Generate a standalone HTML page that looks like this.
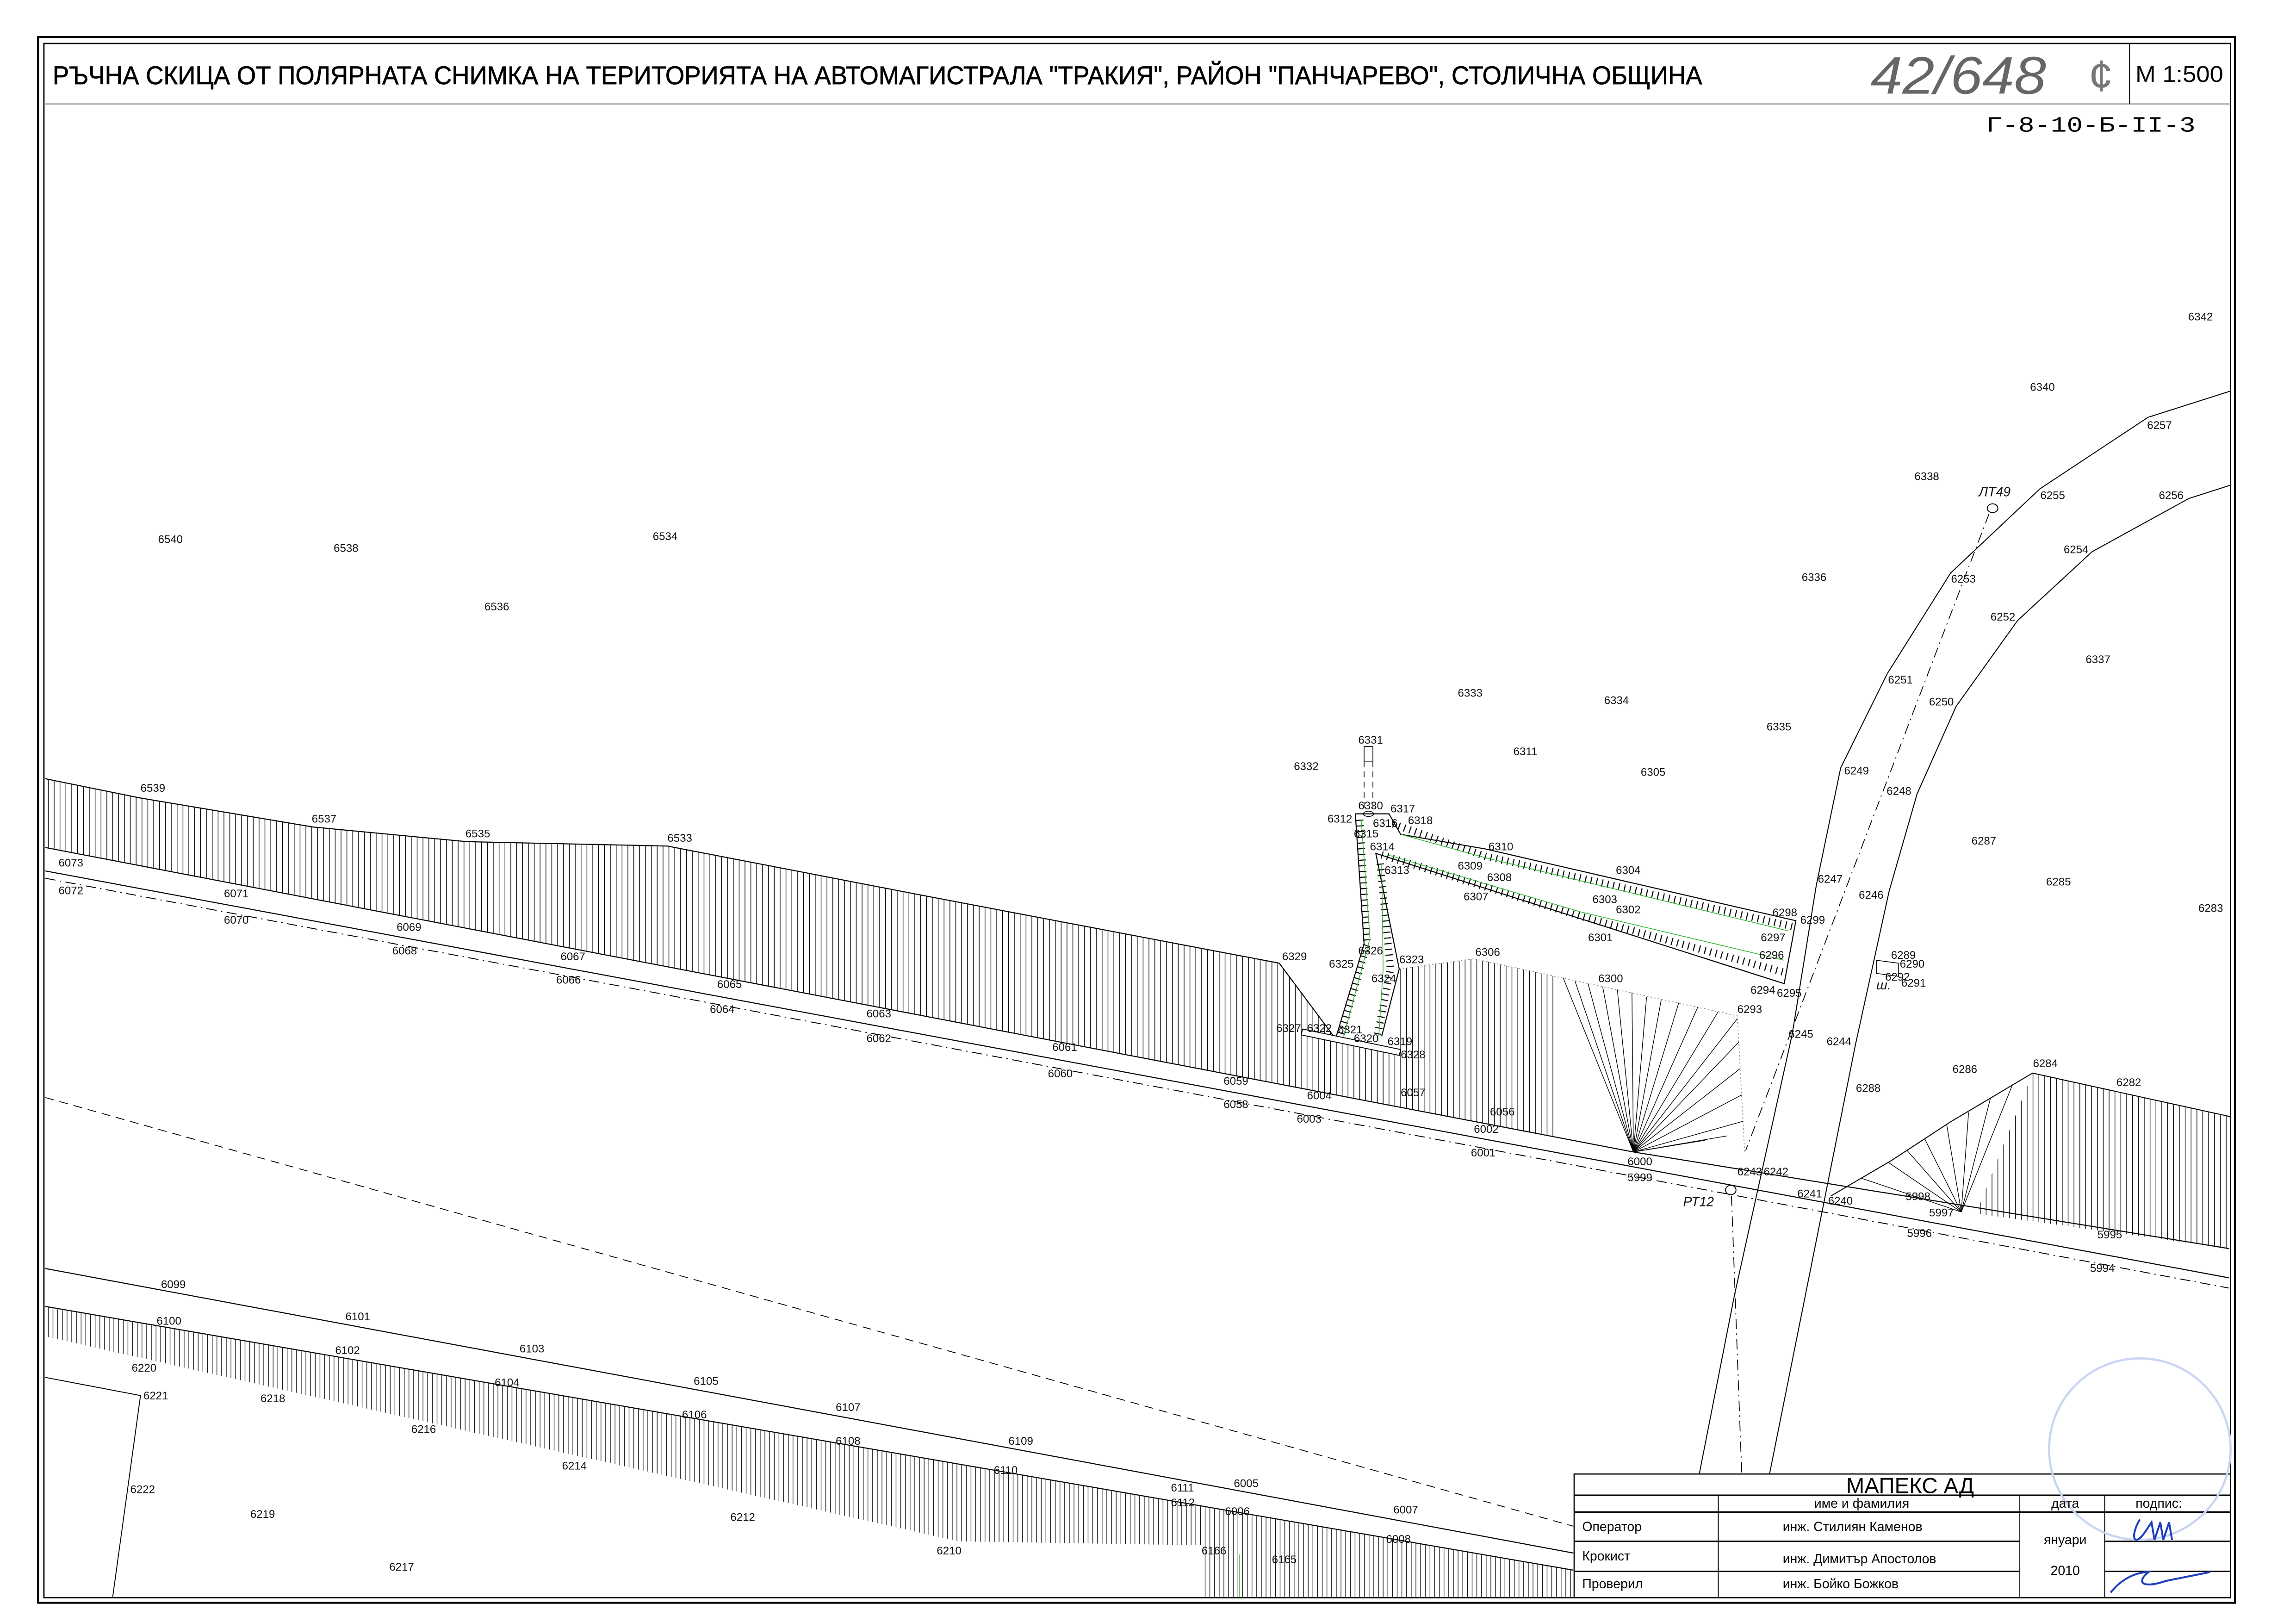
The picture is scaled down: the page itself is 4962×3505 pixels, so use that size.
<!DOCTYPE html>
<html><head><meta charset="utf-8"><style>
html,body{margin:0;padding:0;background:#fff;}
svg{display:block;}
text{font-family:"Liberation Sans","DejaVu Sans",sans-serif;}
.l{font-size:7.6px;fill:#111;}
.t{font-size:9px;fill:#000;}
</style></head><body>
<svg width="4962" height="3505" viewBox="0 0 1568.7 1108.1" preserveAspectRatio="none" xmlns="http://www.w3.org/2000/svg">
<defs>
<pattern id="vh" width="4" height="10" patternUnits="userSpaceOnUse"><line x1="1" y1="0" x2="1" y2="10" stroke="#000" stroke-width="0.45"/></pattern>
<pattern id="vh2" width="3.2" height="10" patternUnits="userSpaceOnUse"><line x1="1" y1="0" x2="1" y2="10" stroke="#000" stroke-width="0.4"/></pattern>
</defs>
<rect width="1568.7" height="1108.1" fill="#fff"/>

<!-- frame -->
<rect x="26" y="25.3" width="1501" height="1069.7" fill="none" stroke="#000" stroke-width="1.3"/>
<rect x="30" y="29.7" width="1494" height="1061.8" fill="none" stroke="#000" stroke-width="0.9"/>
<line x1="30" y1="71" x2="1524" y2="71" stroke="#999" stroke-width="0.8"/>
<line x1="1455" y1="29.7" x2="1455" y2="71" stroke="#000" stroke-width="0.6"/>
<text x="36" y="57.5" font-size="17.5" textLength="1127" lengthAdjust="spacingAndGlyphs" fill="#000" stroke="#000" stroke-width="0.25">РЪЧНА  СКИЦА ОТ ПОЛЯРНАТА СНИМКА НА ТЕРИТОРИЯТА НА АВТОМАГИСТРАЛА "ТРАКИЯ", РАЙОН "ПАНЧАРЕВО", СТОЛИЧНА ОБЩИНА</text>
<text x="1459" y="56" font-size="15.5" textLength="60" lengthAdjust="spacingAndGlyphs" fill="#000">M 1:500</text>
<text x="1278" y="64" font-size="36" textLength="120" lengthAdjust="spacingAndGlyphs" fill="#666" font-style="italic">42/648</text>
<text x="1427" y="62" font-size="30" fill="#777">¢</text>
<text x="1357" y="90" font-size="15" textLength="143" lengthAdjust="spacingAndGlyphs" style="font-family:'Liberation Mono',monospace" fill="#000">Г-8-10-Б-II-3</text>

<!-- upper hatched band -->
<polygon points="31,532 95,545 214,565 319,575 456,578 632,612 874,658 912,709 956,719 956,662 1007,655 1062,667 1062,777 1116,787 31,579" fill="url(#vh)"/>
<polyline points="31,532 95,545 214,565 319,575 456,578 632,612 874,658 912,709" fill="none" stroke="#000" stroke-width="0.7"/>
<polyline points="31,579 1116,787 1523,853" fill="none" stroke="#000" stroke-width="0.7"/>
<line x1="31" y1="595" x2="1523" y2="873" stroke="#000" stroke-width="0.7"/>
<line x1="31" y1="600" x2="1523" y2="880" stroke="#000" stroke-width="0.6" stroke-dasharray="7 3 1 3"/>
<!-- fan -->
<polyline points="956,662 1007,655 1187,694 1192,787" fill="none" stroke="#888" stroke-width="0.5" stroke-dasharray="1 1.5"/>
<g stroke="#000" stroke-width="0.45">
<line x1="1116" y1="787" x2="1068" y2="668"/><line x1="1116" y1="787" x2="1076" y2="670"/>
<line x1="1116" y1="787" x2="1085" y2="672"/><line x1="1116" y1="787" x2="1095" y2="674"/>
<line x1="1116" y1="787" x2="1105" y2="676"/><line x1="1116" y1="787" x2="1115" y2="678"/>
<line x1="1116" y1="787" x2="1125" y2="681"/><line x1="1116" y1="787" x2="1135" y2="683"/>
<line x1="1116" y1="787" x2="1147" y2="685"/><line x1="1116" y1="787" x2="1160" y2="688"/>
<line x1="1116" y1="787" x2="1174" y2="691"/><line x1="1116" y1="787" x2="1187" y2="696"/>
<line x1="1116" y1="787" x2="1188" y2="712"/><line x1="1116" y1="787" x2="1189" y2="730"/>
<line x1="1116" y1="787" x2="1190" y2="748"/><line x1="1116" y1="787" x2="1191" y2="766"/>
<line x1="1116" y1="787" x2="1180" y2="776"/><line x1="1116" y1="787" x2="1165" y2="779"/>
</g>
<!-- bar -->
<polygon points="890,703 957,717 956,721 889,707" fill="#fff" stroke="#000" stroke-width="0.6"/>
<!-- ditch -->
<g fill="none" stroke="#000" stroke-width="0.7">
<polyline points="913,708 932,645 926,556 949,556 957,570 1015,580 1227,629 1219,672 940,583 956,662 944,708"/>
</g>
<g fill="none" stroke="#000" stroke-width="5" stroke-dasharray="0.7 3.2">
<polyline points="952,563 1015,585 1225,633"/>
<polyline points="944,584 1080,626 1218,664"/>
<polyline points="929,560 934,645 916,708"/>
<polyline points="943,590 950,662 941,708"/>
</g>
<g fill="none" stroke="#2db52d" stroke-width="0.5">
<polyline points="957,570 1015,586 1222,636"/>
<polyline points="948,584 1080,623 1219,656"/>
<polyline points="930,560 936,641 918,708"/>
<polyline points="944,590 945,662 942,708"/>
</g>
<rect x="932" y="510" width="6" height="10" fill="none" stroke="#000" stroke-width="0.5"/>
<line x1="932" y1="520" x2="932" y2="552" stroke="#000" stroke-width="0.5" stroke-dasharray="4 3"/>
<line x1="938" y1="520" x2="938" y2="552" stroke="#000" stroke-width="0.5" stroke-dasharray="4 3"/>
<ellipse cx="935" cy="556" rx="3.5" ry="1.8" fill="none" stroke="#000" stroke-width="0.5"/>

<!-- curved road -->
<polyline points="1161,1007 1185,885 1224.5,706.5 1241,604.5 1257.6,524.6 1289.4,460.3 1332.7,391.5 1393.8,333.9 1467.6,285.1 1523.5,267.3" fill="none" stroke="#000" stroke-width="0.65"/>
<polyline points="1209,1007 1233.4,885.3 1267.8,713.2 1290.7,608.9 1309.8,542.4 1336.5,482.5 1378.5,423.9 1429.4,376.9 1495.6,340.5 1523.5,331.6" fill="none" stroke="#000" stroke-width="0.65"/>
<line x1="1359" y1="351" x2="1192.7" y2="786" stroke="#000" stroke-width="0.55" stroke-dasharray="7 3 1 3"/>
<line x1="1183" y1="817" x2="1190" y2="1007" stroke="#000" stroke-width="0.55" stroke-dasharray="7 3 1 3"/>
<ellipse cx="1361.4" cy="347.2" rx="3.6" ry="3" fill="#fff" stroke="#000" stroke-width="0.6"/>
<ellipse cx="1182.5" cy="813" rx="3.6" ry="3.2" fill="#fff" stroke="#000" stroke-width="0.6"/>
<polygon points="1282,656 1297,658 1297,667 1282,665" fill="none" stroke="#000" stroke-width="0.5"/>

<!-- right lower hatch -->
<polygon points="1350,829 1388.7,733.1 1523.5,762.8 1523.5,853" fill="url(#vh)"/>
<polyline points="1251,817 1292,793 1332.7,766.4 1388.7,733.1 1523.5,762.8" fill="none" stroke="#000" stroke-width="0.65"/>
<g stroke="#000" stroke-width="0.45">
<line x1="1340" y1="828" x2="1272" y2="805"/><line x1="1340" y1="828" x2="1290" y2="794"/>
<line x1="1340" y1="828" x2="1303" y2="786"/><line x1="1340" y1="828" x2="1315" y2="778"/>
<line x1="1340" y1="828" x2="1330" y2="768"/><line x1="1340" y1="828" x2="1345" y2="760"/>
<line x1="1340" y1="828" x2="1360" y2="750"/><line x1="1340" y1="828" x2="1375" y2="741"/>
</g>

<!-- lower band -->
<line x1="31" y1="866.6" x2="1075" y2="1061" stroke="#000" stroke-width="0.7"/>
<polygon points="31,892.5 1075,1072.7 1075,1091 823,1091 823,1055.7 655,1053 31,913" fill="url(#vh2)"/>
<line x1="31" y1="892.5" x2="1075" y2="1072.7" stroke="#000" stroke-width="0.7"/>
<line x1="31" y1="749.8" x2="1075" y2="1042.7" stroke="#000" stroke-width="0.55" stroke-dasharray="6 4"/>
<polyline points="31,941 96,953.4 77,1091" fill="none" stroke="#000" stroke-width="0.6"/>
<line x1="847" y1="1062" x2="847" y2="1091" stroke="#2db52d" stroke-width="0.5"/>

<!-- title block -->
<g stroke="#000" fill="none">
<rect x="1075.5" y="1007" width="448.5" height="84.5" stroke-width="0.8"/>
<line x1="1075.5" y1="1021.5" x2="1524" y2="1021.5" stroke-width="1"/>
<line x1="1075.5" y1="1033" x2="1524" y2="1033" stroke-width="1"/>
<line x1="1075.5" y1="1053" x2="1380" y2="1053" stroke-width="1"/>
<line x1="1438" y1="1053" x2="1524" y2="1053" stroke-width="1"/>
<line x1="1075.5" y1="1073.5" x2="1380" y2="1073.5" stroke-width="1"/>
<line x1="1438" y1="1073.5" x2="1524" y2="1073.5" stroke-width="1"/>
<line x1="1174" y1="1021.5" x2="1174" y2="1091.5" stroke-width="0.6"/>
<line x1="1380" y1="1021.5" x2="1380" y2="1091.5" stroke-width="0.6"/>
<line x1="1438" y1="1021.5" x2="1438" y2="1091.5" stroke-width="0.6"/>
</g>
<circle cx="1462" cy="990" r="62" fill="none" stroke="#c9d5f2" stroke-width="1.5"/>
<text x="1305" y="1020" font-size="15" text-anchor="middle" fill="#000">МАПЕКС   АД</text>
<text class="t" x="1272" y="1030" text-anchor="middle">име и фамилия</text>
<text class="t" x="1411" y="1030" text-anchor="middle">дата</text>
<text class="t" x="1475" y="1030" text-anchor="middle">подпис:</text>
<text class="t" x="1081" y="1046">Оператор</text>
<text class="t" x="1218" y="1046">инж. Стилиян Каменов</text>
<text class="t" x="1081" y="1066">Крокист</text>
<text class="t" x="1218" y="1068">инж. Димитър Апостолов</text>
<text class="t" x="1081" y="1085">Проверил</text>
<text class="t" x="1218" y="1085">инж. Бойко Божков</text>
<text class="t" x="1411" y="1055" text-anchor="middle">януари</text>
<text class="t" x="1411" y="1076" text-anchor="middle">2010</text>
<path d="M1462,1038 C1455,1050 1458,1058 1466,1046 L1470,1040 L1472,1052 L1476,1040 L1478,1052 L1482,1040 L1484,1052" fill="none" stroke="#1f3fbf" stroke-width="1.3"/>
<path d="M1442,1088 C1450,1078 1460,1074 1468,1074 C1460,1080 1462,1086 1480,1080 C1490,1078 1500,1076 1510,1074" fill="none" stroke="#1f3fbf" stroke-width="1.3"/>

<!-- labels -->
<g class="l">
<text x="1495" y="219">6342</text><text x="1387" y="267">6340</text><text x="1467" y="293">6257</text>
<text x="1308" y="328">6338</text><text x="1352" y="339" font-style="italic" font-size="9">ЛТ49</text>
<text x="1394" y="341">6255</text><text x="1475" y="341">6256</text><text x="1410" y="378">6254</text>
<text x="1333" y="398">6253</text><text x="1231" y="397">6336</text><text x="1360" y="424">6252</text>
<text x="1425" y="453">6337</text><text x="1290" y="467">6251</text><text x="1318" y="482">6250</text>
<text x="996" y="476">6333</text><text x="1096" y="481">6334</text><text x="1207" y="499">6335</text>
<text x="108" y="371">6540</text><text x="228" y="377">6538</text><text x="446" y="369">6534</text>
<text x="331" y="417">6536</text><text x="928" y="508">6331</text><text x="1034" y="516">6311</text>
<text x="884" y="526">6332</text><text x="1121" y="530">6305</text><text x="1260" y="529">6249</text>
<text x="1289" y="543">6248</text><text x="1347" y="577">6287</text><text x="1398" y="605">6285</text>
<text x="1502" y="623">6283</text><text x="1242" y="603">6247</text><text x="1270" y="614">6246</text>
<text x="96" y="541">6539</text><text x="213" y="562">6537</text><text x="318" y="572">6535</text>
<text x="456" y="575">6533</text><text x="40" y="592">6073</text><text x="40" y="611">6072</text>
<text x="153" y="613">6071</text><text x="153" y="631">6070</text><text x="271" y="636">6069</text>
<text x="268" y="652">6068</text><text x="383" y="656">6067</text><text x="380" y="672">6066</text>
<text x="490" y="675">6065</text><text x="485" y="692">6064</text><text x="592" y="695">6063</text>
<text x="592" y="712">6062</text><text x="719" y="718">6061</text><text x="716" y="736">6060</text>
<text x="836" y="741">6059</text><text x="836" y="757">6058</text><text x="893" y="751">6004</text>
<text x="886" y="767">6003</text><text x="1007" y="774">6002</text><text x="1005" y="790">6001</text>
<text x="1112" y="796">6000</text><text x="1112" y="807">5999</text><text x="957" y="749">6057</text>
<text x="1018" y="762">6056</text><text x="876" y="656">6329</text><text x="872" y="705">6327</text>
<text x="893" y="705">6322</text><text x="914" y="706">6321</text><text x="925" y="712">6320</text>
<text x="948" y="714">6319</text><text x="957" y="723">6328</text><text x="908" y="661">6325</text>
<text x="928" y="652">6326</text><text x="956" y="658">6323</text><text x="937" y="671">6324</text>
<text x="1008" y="653">6306</text><text x="1092" y="671">6300</text><text x="1187" y="692">6293</text>
<text x="1196" y="679">6294</text><text x="1214" y="681">6295</text><text x="1202" y="655">6296</text>
<text x="1203" y="643">6297</text><text x="1211" y="626">6298</text><text x="1230" y="631">6299</text>
<text x="1085" y="643">6301</text><text x="1104" y="624">6302</text><text x="1088" y="617">6303</text>
<text x="1104" y="597">6304</text><text x="1000" y="615">6307</text><text x="1016" y="602">6308</text>
<text x="996" y="594">6309</text><text x="1017" y="581">6310</text><text x="946" y="597">6313</text>
<text x="936" y="581">6314</text><text x="925" y="572">6315</text><text x="938" y="565">6316</text>
<text x="950" y="555">6317</text><text x="962" y="563">6318</text><text x="907" y="562">6312</text>
<text x="928" y="553">6330</text><text x="1222" y="709">6245</text><text x="1248" y="714">6244</text>
<text x="1292" y="655">6289</text><text x="1298" y="661">6290</text><text x="1288" y="670">6292</text>
<text x="1299" y="674">6291</text><text x="1282" y="676" font-style="italic" font-size="9">ш.</text>
<text x="1268" y="746">6288</text><text x="1334" y="733">6286</text><text x="1389" y="729">6284</text>
<text x="1446" y="742">6282</text><text x="1187" y="803">6243</text><text x="1205" y="803">6242</text>
<text x="1228" y="818">6241</text><text x="1249" y="823">6240</text><text x="1302" y="820">5998</text>
<text x="1318" y="831">5997</text><text x="1303" y="845">5996</text><text x="1433" y="846">5995</text>
<text x="1428" y="869">5994</text><text x="1150" y="824" font-style="italic" font-size="9">РТ12</text>
<text x="110" y="880">6099</text><text x="107" y="905">6100</text><text x="236" y="902">6101</text>
<text x="229" y="925">6102</text><text x="355" y="924">6103</text><text x="338" y="947">6104</text>
<text x="474" y="946">6105</text><text x="466" y="969">6106</text><text x="571" y="964">6107</text>
<text x="571" y="987">6108</text><text x="689" y="987">6109</text><text x="679" y="1007">6110</text>
<text x="800" y="1019">6111</text><text x="800" y="1029">6112</text><text x="843" y="1016">6005</text>
<text x="837" y="1035">6006</text><text x="952" y="1034">6007</text><text x="947" y="1054">6008</text>
<text x="869" y="1068">6165</text><text x="821" y="1062">6166</text><text x="90" y="937">6220</text>
<text x="178" y="958">6218</text><text x="281" y="979">6216</text><text x="384" y="1004">6214</text>
<text x="499" y="1039">6212</text><text x="640" y="1062">6210</text><text x="98" y="956">6221</text>
<text x="89" y="1020">6222</text><text x="171" y="1037">6219</text><text x="266" y="1073">6217</text>
</g>
</svg>
</body></html>
